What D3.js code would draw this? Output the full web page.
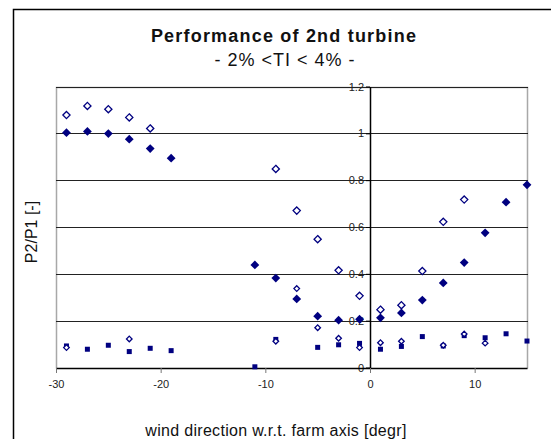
<!DOCTYPE html>
<html>
<head>
<meta charset="utf-8">
<script src="https://cdn.jsdelivr.net/npm/d3@7"></script>
<style>
  html, body { margin: 0; padding: 0; background: #fff; }
  svg { display: block; font-family: "Liberation Sans", Arial, sans-serif; }
</style>
</head>
<body>
<svg id="chart" width="551" height="439"></svg>
<script>
// Wind direction relative to the farm axis [degr]
const windDir = [-29, -27, -25, -23, -21, -19, -17, -15, -13, -11, -9, -7, -5, -3, -1, 1, 3, 5, 7, 9, 11, 13, 15];

// P2/P1 ratios per wind direction (null = no measurement)
const seriesFilledDiamond = [1.003, 1.008, 0.999, 0.975, 0.935, 0.894, null, null, null, 0.438, 0.382, 0.293, 0.219, 0.202, 0.206, 0.212, 0.233, 0.288, 0.361, 0.448, 0.575, 0.706, 0.780];
const seriesOpenDiamond   = [1.078, 1.117, 1.103, 1.068, 1.021, null, null, null, null, null, 0.848, 0.670, 0.548, 0.415, 0.306, 0.247, 0.266, 0.412, 0.622, 0.717, null, null, null];
const seriesSquare        = [0.092, 0.078, 0.095, 0.068, 0.082, 0.072, null, null, null, 0.003, 0.120, null, 0.086, 0.097, 0.103, 0.078, 0.090, 0.132, 0.092, 0.136, 0.127, 0.144, 0.113];
const seriesSmallDiamond  = [0.085, null, null, 0.122, null, null, null, null, null, null, 0.112, 0.337, 0.170, 0.125, 0.085, 0.106, 0.112, null, 0.095, 0.143, 0.104, null, null];

// Axis ticks
const xTicks = [-30, -20, -10, 0, 10];
const xTickLabels = ["-30", "-20", "-10", "0", "10"];
const yTicks = [0, 0.2, 0.4, 0.6, 0.8, 1, 1.2];
const yTickLabels = ["0", "0.2", "0.4", "0.6", "0.8", "1", "1.2"];

const titleText = "Performance of 2nd turbine";
const subtitleText = "- 2% <TI < 4% -";
const xTitle = "wind direction w.r.t. farm axis [degr]";
const yTitle = "P2/P1 [-]";

const navy = "#000080";
const svg = d3.select("#chart");

const x = d3.scaleLinear().domain([-30, 15]).range([56, 527]);
const y = d3.scaleLinear().domain([0, 1.2]).range([367.5, 86.5]);

// outer chart frame
svg.append("rect")
  .attr("x", 13.5).attr("y", 9.5)
  .attr("width", 600).attr("height", 500)
  .attr("fill", "#fff").attr("stroke", "#000").attr("stroke-width", 1.5);

// plot area frame (left, top, right)
const [x0, x1] = x.range();
const yTop = Math.round(y(1.2)) + 0.5;
const yBot = Math.round(y(0)) + 0.5;
svg.append("path")
  .attr("d", `M${x0 + 0.5},${yBot}V${yTop}H${x1 + 0.5}V${yBot}`)
  .attr("fill", "none").attr("stroke", "#a8a8a8").attr("stroke-width", 1.5);

// horizontal gridlines
svg.append("g").selectAll("line")
  .data(yTicks.filter(d => d > 0))
  .join("line")
  .attr("x1", x0).attr("x2", x1 + 1)
  .attr("y1", d => Math.round(y(d)) + 0.5)
  .attr("y2", d => Math.round(y(d)) + 0.5)
  .attr("stroke", "#222").attr("stroke-width", 1);

// y axis at wind direction 0
const yAxis = d3.axisLeft(y)
  .tickValues(yTicks)
  .tickFormat((d, i) => yTickLabels[i])
  .tickSizeInner(4).tickSizeOuter(0).tickPadding(2);
const gy = svg.append("g")
  .attr("transform", `translate(${Math.round(x(0))},0)`)
  .call(yAxis);
gy.select(".domain").attr("stroke", "#000").attr("stroke-width", 1.5);
gy.selectAll(".tick line").attr("stroke", "#000");
gy.selectAll(".tick text")
  .attr("font-size", 11).attr("fill", "#222")
  .attr("font-family", "Liberation Sans, Arial, sans-serif");

// x axis along P2/P1 = 0
const xAxis = d3.axisBottom(x)
  .tickValues(xTicks)
  .tickFormat((d, i) => xTickLabels[i])
  .tickSizeInner(5).tickSizeOuter(0).tickPadding(7);
const gx = svg.append("g")
  .attr("transform", `translate(0,${Math.round(y(0))})`)
  .call(xAxis);
gx.select(".domain").attr("stroke", "#000").attr("stroke-width", 1.5);
gx.selectAll(".tick line").attr("stroke", "#777");
gx.selectAll(".tick text")
  .attr("font-size", 11).attr("fill", "#222")
  .attr("font-family", "Liberation Sans, Arial, sans-serif");

// markers
function points(values) {
  return windDir.map((d, i) => ({ dir: d, v: values[i] })).filter(p => p.v !== null);
}
function diamondPath(r) {
  return `M0,${-r}L${r},0L0,${r}L${-r},0Z`;
}

svg.append("g").selectAll("rect")
  .data(points(seriesSquare))
  .join("rect")
  .attr("x", p => x(p.dir) - 2.5)
  .attr("y", p => y(p.v) - 2.5)
  .attr("width", 5).attr("height", 5)
  .attr("fill", navy);

svg.append("g").selectAll("path")
  .data(points(seriesSmallDiamond))
  .join("path")
  .attr("transform", p => `translate(${x(p.dir)},${y(p.v)})`)
  .attr("d", diamondPath(2.8))
  .attr("fill", "#fff").attr("stroke", navy).attr("stroke-width", 1.3);

svg.append("g").selectAll("path")
  .data(points(seriesOpenDiamond))
  .join("path")
  .attr("transform", p => `translate(${x(p.dir)},${y(p.v)})`)
  .attr("d", diamondPath(3.6))
  .attr("fill", "#fff").attr("stroke", navy).attr("stroke-width", 1.3);

svg.append("g").selectAll("path")
  .data(points(seriesFilledDiamond))
  .join("path")
  .attr("transform", p => `translate(${x(p.dir)},${y(p.v)})`)
  .attr("d", diamondPath(4.4))
  .attr("fill", navy);

// titles
svg.append("text")
  .attr("x", 284).attr("y", 42)
  .attr("text-anchor", "middle")
  .attr("font-size", 18).attr("font-weight", "bold")
  .attr("letter-spacing", 1.2).attr("fill", "#111")
  .text(titleText);

svg.append("text")
  .attr("x", 285).attr("y", 66)
  .attr("text-anchor", "middle")
  .attr("font-size", 18).attr("letter-spacing", 1)
  .attr("fill", "#111")
  .text(subtitleText);

svg.append("text")
  .attr("x", 276).attr("y", 436)
  .attr("text-anchor", "middle")
  .attr("font-size", 16).attr("letter-spacing", 0.3)
  .attr("fill", "#111")
  .text(xTitle);

svg.append("text")
  .attr("transform", "translate(37,232) rotate(-90)")
  .attr("text-anchor", "middle")
  .attr("font-size", 16)
  .attr("fill", "#111")
  .text(yTitle);
</script>
</body>
</html>
